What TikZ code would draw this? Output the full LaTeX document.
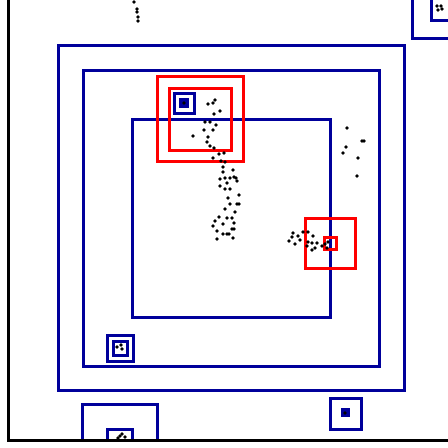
\documentclass[tikz,border=0pt]{standalone}
\usepackage{tikz}
\definecolor{qblue}{RGB}{0,0,155}
\begin{document}
\begin{tikzpicture}[x=1pt, y=-1pt,
  cell/.style={draw=qblue, line width=3pt},
  full/.style={draw=qblue, fill=qblue, line width=1.5pt},
  hit/.style={draw=red, line width=3pt},
  axis/.style={draw=black, line width=3pt},
  pt/.style={fill=black}]
\useasboundingbox (0,0) rectangle (448,448);
\clip (0,0) rectangle (448,448);
% quadtree cells
\draw[cell] (58,45) rectangle (404,390);
\draw[cell] (83,70) rectangle (379,366);
\draw[cell] (132,119) rectangle (330,317);
\draw[cell] (412,-10) rectangle (460,38);
\draw[cell] (431,-10) rectangle (460,20);
\draw[cell] (330,398) rectangle (361,429);
\draw[full] (342,409) rectangle (349,416);
\draw[cell] (82,440) -- (82,404) -- (157,404) -- (157,440);
\draw[cell] (107,440) -- (107,429) -- (132,429) -- (132,440);
\draw[cell] (107,335) rectangle (133,361);
\draw[cell] (113,341) rectangle (127,355);
\draw[cell] (174,93) rectangle (194,113);
\draw[full] (180,99) rectangle (188,107);
% query windows
\draw[hit] (157,76) rectangle (243,161);
\draw[hit] (169,88) rectangle (231,150);
\draw[hit] (305,218) rectangle (355,268);
\draw[hit] (324,237) rectangle (336,249);
% points
\foreach \x/\y in {134/2, 137/9, 137/12, 138/17, 138/21,
  208/104, 213/103, 215/100, 220/111, 214/114, 205/122, 210/122, 216/125,
  204/130, 213/130, 193/136, 208/137, 207/142, 210/146, 214/148, 219/154,
  224/153, 213/158, 221/161, 225/162, 223/167, 223/172, 233/170, 225/178,
  230/178, 234/177, 236/178, 237/181, 220/179, 227/183, 220/186, 225/189,
  230/189, 239/195, 228/198, 237/204, 239/204, 230/204, 225/209, 235/212,
  219/217, 227/218, 232/218, 215/221, 223/224, 234/223, 213/226, 217/231,
  232/229, 234/229, 223/234, 227/234, 229/234, 217/239, 233/238,
  347/128, 362/141, 364/141, 346/147, 343/153, 358/158, 357/176,
  293/233, 292/237, 289/241, 295/244, 298/236, 303/232, 308/232, 313/236,
  300/240, 308/242, 312/243, 317/243, 307/246, 312/250, 315/248, 322/246,
  325/244, 327/248, 328/242,
  117/347, 121/345, 122/349, 184/103,
  120/436, 122/434, 125/437, 118/438, 345/413,
  437/6, 441/6, 438/10, 442/9}
  \fill[pt] (\x,\y) circle (1.9pt);
% axes
\draw[axis] (8,0) -- (8,440) -- (448,440);
\end{tikzpicture}
\end{document}
